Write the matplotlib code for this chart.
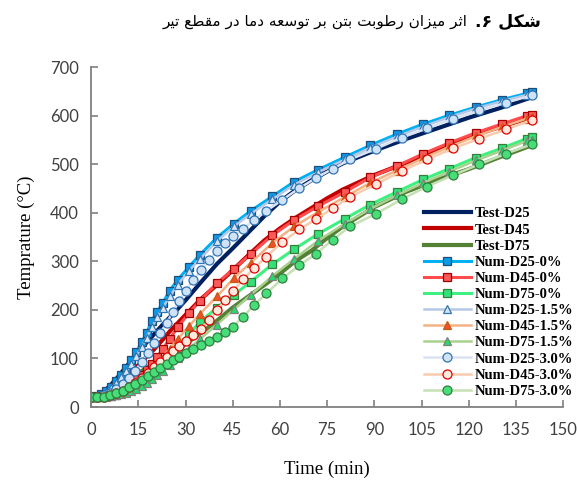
import matplotlib
matplotlib.use('Agg')
import matplotlib.pyplot as plt

# time steps (min)
t_test = [0, 2, 4, 6, 8, 10, 12, 14, 16, 18, 20, 22.5, 25, 27.5, 30, 35, 40, 45, 50, 55,
          60, 65, 70, 75, 80, 90, 100, 110, 120, 130, 140]
t_num = [0, 1.6, 3.2, 4.8, 6.4, 8, 9.6, 11.2, 12.8, 14.4, 16, 17.6,
         19.3, 21, 22.8, 25, 27.5, 31, 34.6, 40, 45.4, 50.7, 57.6,
         64.5, 72.2, 80.7, 88.7, 97.1, 105.6, 113.8, 122.3, 130.5, 138.4, 140]
t_num3 = [0, 2, 4, 6, 8, 10, 12, 14, 16, 18, 20, 22, 24, 26, 28, 30,
          32.5, 35, 37.5, 40, 42.5, 45,
          48.3, 51.8, 55.7, 60.8, 66.2, 71.5, 76.8, 82.3,
          90.5, 98.7, 106.7, 115.1, 123.4, 131.9, 140]

# temperatures (C)
test_d25 = [20, 24, 32, 44, 58, 74, 90, 106, 121, 136, 150, 168, 185, 202, 220, 258, 295, 327, 360, 393,
            423, 447, 467, 485, 502, 528, 552, 574, 596, 616, 638]
test_d45 = [20, 24, 30, 38, 47, 57, 68, 80, 93, 106, 119, 137, 156, 173, 190, 223, 252, 282, 313, 343,
            368, 390, 410, 430, 448, 478, 503, 530, 556, 577, 597]
test_d75 = [20, 23, 28, 35, 42, 50, 58, 66, 74, 82, 90, 99, 108, 117, 130, 153, 178, 205, 228, 251,
            275, 301, 322, 348, 372, 412, 443, 468, 490, 515, 539]

num_d25_0 = [20, 22, 26, 33, 42, 53, 66, 80, 96, 114, 133, 152,
             178, 196, 215, 240, 262, 288, 314, 349, 378, 404, 434,
             464, 489, 515, 539, 562, 583, 601, 618, 633, 646, 649]
num_d45_0 = [20, 20, 22, 24, 27, 31, 36, 42, 49, 57, 66, 76,
             89, 103, 120, 141, 164, 193, 219, 255, 285, 315, 354,
             385, 414, 443, 473, 496, 522, 544, 565, 583, 600, 602]
num_d75_0 = [20, 20, 21, 22, 23, 25, 28, 32, 37, 43, 50, 58,
             68, 78, 90, 104, 122, 150, 175, 205, 231, 258, 294,
             325, 357, 388, 417, 443, 469, 491, 514, 533, 553, 556]

num_d25_15 = [20, 22, 25, 31, 39, 49, 61, 74, 89, 106, 124, 143,
              165, 185, 205, 228, 252, 280, 305, 342, 372, 398, 428,
              458, 484, 510, 534, 557, 578, 597, 615, 630, 643, 646]
num_d45_15 = [20, 20, 21, 22, 24, 27, 31, 36, 42, 49, 57, 66,
              77, 89, 102, 120, 140, 166, 192, 228, 266, 297, 338,
              372, 402, 433, 462, 487, 513, 536, 558, 577, 594, 597]
num_d75_15 = [20, 20, 20, 21, 22, 24, 26, 29, 33, 38, 44, 50,
              57, 65, 74, 86, 100, 120, 140, 170, 201, 231, 270,
              305, 343, 378, 408, 436, 462, 485, 508, 528, 548, 551]

num_d25_3 = [20, 21, 24, 29, 37, 47, 60, 75, 92, 111, 131, 152, 174, 196, 219, 240,
             261, 283, 303, 322, 338, 352,
             367, 386, 404, 427, 451, 472, 491, 510,
             532, 555, 574, 594, 611, 627, 642]
num_d45_3 = [20, 20, 21, 24, 29, 33, 41, 50, 60, 71, 82, 93, 104, 115, 126, 135,
             148, 161, 180, 199, 220, 239,
             263, 286, 310, 340, 366, 387, 410, 433,
             459, 486, 510, 533, 553, 572, 591]
num_d75_3 = [20, 20, 21, 25, 29, 34, 41, 48, 55, 63, 72, 81, 89, 97, 104, 111,
             119, 127, 136, 145, 155, 165,
             186, 210, 234, 265, 292, 316, 345, 372,
             398, 428, 454, 478, 500, 522, 541]

x_ticks = [0, 15, 30, 45, 60, 75, 90, 105, 120, 135, 150]
y_ticks = [0, 100, 200, 300, 400, 500, 600, 700]

title_bold = 'شکل ۶.'
title_rest = 'اثر میزان رطوبت بتن بر توسعه دما در مقطع تیر'

# presentation forms: isolated, final, initial, medial
FORMS = {
    '\u0627': ('\uFE8D', '\uFE8E', None, None),
    '\u0628': ('\uFE8F', '\uFE90', '\uFE91', '\uFE92'),
    '\u062A': ('\uFE95', '\uFE96', '\uFE97', '\uFE98'),
    '\u062B': ('\uFE99', '\uFE9A', '\uFE9B', '\uFE9C'),
    '\u062F': ('\uFEA9', '\uFEAA', None, None),
    '\u0631': ('\uFEAD', '\uFEAE', None, None),
    '\u0632': ('\uFEAF', '\uFEB0', None, None),
    '\u0633': ('\uFEB1', '\uFEB2', '\uFEB3', '\uFEB4'),
    '\u0634': ('\uFEB5', '\uFEB6', '\uFEB7', '\uFEB8'),
    '\u0637': ('\uFEC1', '\uFEC2', '\uFEC3', '\uFEC4'),
    '\u0639': ('\uFEC9', '\uFECA', '\uFECB', '\uFECC'),
    '\u0642': ('\uFED5', '\uFED6', '\uFED7', '\uFED8'),
    '\u0644': ('\uFEDD', '\uFEDE', '\uFEDF', '\uFEE0'),
    '\u0645': ('\uFEE1', '\uFEE2', '\uFEE3', '\uFEE4'),
    '\u0646': ('\uFEE5', '\uFEE6', '\uFEE7', '\uFEE8'),
    '\u0647': ('\uFEE9', '\uFEEA', '\uFEEB', '\uFEEC'),
    '\u0648': ('\uFEED', '\uFEEE', None, None),
    '\u06A9': ('\uFB8E', '\uFB8F', '\uFB90', '\uFB91'),
    '\u06CC': ('\uFBFC', '\uFBFD', '\uFBFE', '\uFBFF'),
}


def shape_rtl(s):
    out = []
    for i, ch in enumerate(s):
        if ch not in FORMS:
            out.append(ch)
            continue
        prev = s[i - 1] if i > 0 else ''
        nxt = s[i + 1] if i + 1 < len(s) else ''
        jp = prev in FORMS and FORMS[prev][2] is not None
        jn = FORMS[ch][2] is not None and nxt in FORMS
        f = FORMS[ch]
        if jp and jn:
            out.append(f[3])
        elif jp:
            out.append(f[1])
        elif jn:
            out.append(f[2])
        else:
            out.append(f[0])
    return ''.join(out)[::-1]


plt.rcParams['font.family'] = ['Liberation Serif', 'DejaVu Sans']

fig = plt.figure(figsize=(5.77, 4.8), dpi=100)
ax = fig.add_axes([0.158, 0.152, 0.818, 0.708])

ax.plot(t_test, test_d25, color='#002060', lw=3, label='Test-D25')
ax.plot(t_test, test_d45, color='#C00000', lw=3, label='Test-D45')
ax.plot(t_test, test_d75, color='#548235', lw=3, label='Test-D75')

ax.plot(t_num, num_d25_0, color='#00B0F0', lw=2.2, marker='s', ms=6,
        mfc='#0C9BE8', mec='#1F4E79', mew=0.9, label='Num-D25-0%')
ax.plot(t_num, num_d45_0, color='#FF4B4B', lw=2.2, marker='s', ms=6,
        mfc='#FF5A5A', mec='#A50000', mew=0.9, label='Num-D45-0%')
ax.plot(t_num, num_d75_0, color='#3DF07F', lw=2.2, marker='s', ms=6,
        mfc='#33E07A', mec='#3A7D3A', mew=0.9, label='Num-D75-0%')

ax.plot(t_num, num_d25_15, color='#B4C7E7', lw=1.8, marker='^', ms=6,
        mfc='#D6E4F5', mec='#2E75B6', mew=0.9, label='Num-D25-1.5%')
ax.plot(t_num, num_d45_15, color='#F4B183', lw=1.8, marker='^', ms=6,
        mfc='#F0502D', mec='#C55A11', mew=0.9, label='Num-D45-1.5%')
ax.plot(t_num, num_d75_15, color='#A9D18E', lw=1.8, marker='^', ms=6,
        mfc='#22DD66', mec='#7F7F7F', mew=0.9, label='Num-D75-1.5%')

ax.plot(t_num3, num_d25_3, color='#DAE3F3', lw=1.8, marker='o', ms=6.5,
        mfc='#CFE2F7', mec='#2E75B6', mew=0.9, label='Num-D25-3.0%')
ax.plot(t_num3, num_d45_3, color='#F8CBAD', lw=1.8, marker='o', ms=6.5,
        mfc='#FDE9DC', mec='#E00000', mew=0.9, label='Num-D45-3.0%')
ax.plot(t_num3, num_d75_3, color='#C5E0B4', lw=1.8, marker='o', ms=6.5,
        mfc='#47DD78', mec='#2F7F3F', mew=0.9, label='Num-D75-3.0%')

ax.set_xlim(0, 150)
ax.set_ylim(0, 700)
ax.set_xticks(x_ticks)
ax.set_yticks(y_ticks)
for side in ['top', 'right']:
    ax.spines[side].set_visible(False)
for side in ['left', 'bottom']:
    ax.spines[side].set_color('#808080')
    ax.spines[side].set_linewidth(1.3)
ax.tick_params(direction='in', length=5, width=1.2, color='#808080',
               labelsize=12, labelcolor='#404040')
ax.tick_params(axis='x', pad=11)
ax.tick_params(axis='y', pad=9)
for lab in ax.get_xticklabels() + ax.get_yticklabels():
    lab.set_family('Lato')

ax.set_xlabel('Time (min)', fontsize=13.5, labelpad=16)
ax.set_ylabel('Temprature (°C)', fontsize=13.5, labelpad=11)

ax.legend(loc='upper left', bbox_to_anchor=(0.693, 0.605), frameon=False,
          prop={'family': 'Liberation Serif', 'weight': 'bold', 'size': 10.5},
          handlelength=3.2, labelspacing=0.2, borderaxespad=0, handletextpad=0.25)

tb = fig.text(0.937, 0.955, shape_rtl(title_bold), ha='right', va='center',
              fontsize=12.5, fontweight='bold', family=['DejaVu Sans'])
ax.annotate(shape_rtl(title_rest), xy=(0, 0.5), xycoords=tb, xytext=(-5, 0),
            textcoords='offset points', ha='right', va='center',
            fontsize=11, family=['DejaVu Sans'])

fig.savefig('out.png', dpi=100)
